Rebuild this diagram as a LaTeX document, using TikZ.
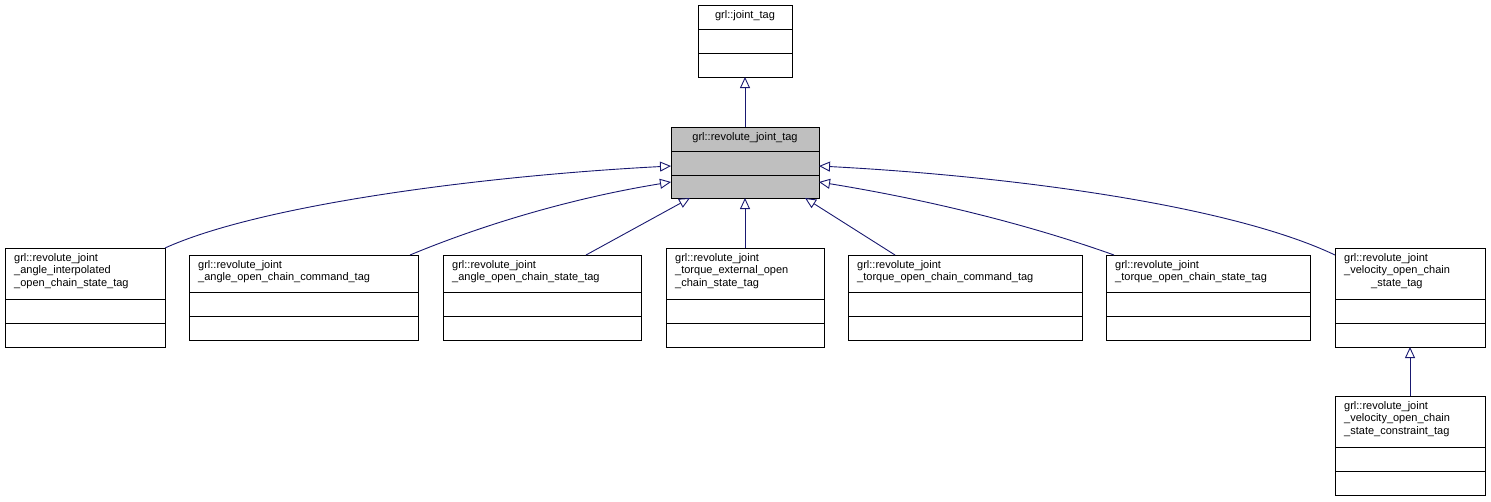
\documentclass[tikz,border=0pt]{standalone}
\usepackage{fontspec}
\setmainfont{Liberation Sans}
\usetikzlibrary{arrows.meta,positioning,calc}
\definecolor{edgeblue}{RGB}{25,25,112}
\definecolor{hilite}{RGB}{191,191,191}

% class box: name, x1, y1, x2, y2, first row line, second row line, fill
\newcommand{\umlbox}[8]{%
  \node[cls, fill=#8, minimum width=#4-#2, minimum height=#5-#3, anchor=north west] (#1) at (#2,#3) {};
  \draw (#2,#6) -- (#4,#6);
  \draw (#2,#7) -- (#4,#7);
}

\begin{document}
\begin{tikzpicture}[x=1pt,y=-1pt,>={Triangle[open,length=11pt,width=10pt]}]
\tikzset{
  cls/.style={draw, line width=0.9pt, inner sep=0pt, outer sep=0pt},
  ttl/.style={anchor=north west, inner sep=0pt, align=left, font=\fontsize{11}{12.5}\selectfont},
  inh/.style={<-, draw=edgeblue, line width=0.9pt}
}
\useasboundingbox (0,0) rectangle (1491,501);

% classes
\umlbox{joint}{698}{5}{792}{77}{29}{53}{white}
\umlbox{rev}{671}{127}{819}{198}{151}{175}{hilite}
\umlbox{interp}{5}{248}{165}{347}{299}{323}{white}
\umlbox{anglecmd}{189}{255}{418}{340}{292}{316}{white}
\umlbox{anglestate}{443}{255}{641}{340}{292}{316}{white}
\umlbox{torqueext}{666}{248}{824}{347}{299}{323}{white}
\umlbox{torquecmd}{848}{255}{1082}{340}{292}{316}{white}
\umlbox{torquestate}{1106}{255}{1310}{340}{292}{316}{white}
\umlbox{velstate}{1335}{248}{1485}{347}{299}{323}{white}
\umlbox{velcons}{1335}{396}{1485}{495}{447}{471}{white}

% titles
\node[ttl, anchor=north] (joint-t) at (745,10) {grl::joint\_tag};
\node[ttl, anchor=north] (rev-t) at (745,132) {grl::revolute\_joint\_tag};
\node[ttl] (interp-t) at (14,253) {grl::revolute\_joint\\\_angle\_interpolated\\\_open\_chain\_state\_tag};
\node[ttl] (anglecmd-t) at (198,260) {grl::revolute\_joint\\\_angle\_open\_chain\_command\_tag};
\node[ttl] (anglestate-t) at (452,260) {grl::revolute\_joint\\\_angle\_open\_chain\_state\_tag};
\node[ttl] (torqueext-t) at (675,253) {grl::revolute\_joint\\\_torque\_external\_open\\\_chain\_state\_tag};
\node[ttl] (torquecmd-t) at (857,260) {grl::revolute\_joint\\\_torque\_open\_chain\_command\_tag};
\node[ttl] (torquestate-t) at (1115,260) {grl::revolute\_joint\\\_torque\_open\_chain\_state\_tag};
\node[ttl] (velstate-t) at (1344,253) {grl::revolute\_joint\\\_velocity\_open\_chain\\\hspace*{27pt}\_state\_tag};
\node[ttl] (velcons-t) at (1344,401) {grl::revolute\_joint\\\_velocity\_open\_chain\\\_state\_constraint\_tag};

% inheritance
\draw[inh] (joint.south) -- (rev.north);
\draw[inh] ([yshift=-3.5pt]rev.west) .. controls (480,176) and (260,205) .. (interp.north east);
\draw[inh] ([yshift=-19.5pt]rev.west) .. controls (560,200) and (470,230) .. ([xshift=-8pt]anglecmd.north east);
\draw[inh] ([xshift=-55pt]rev.south) -- ([xshift=-55pt]anglestate.north east |- anglestate.north);
\draw[inh] (rev.south) -- (torqueext.north);
\draw[inh] ([xshift=60pt]rev.south) -- ([xshift=47pt]torquecmd.north west);
\draw[inh] ([yshift=-19.5pt]rev.east) .. controls (930,200) and (1030,225) .. ([xshift=8pt]torquestate.north west);
\draw[inh] ([yshift=-3.5pt]rev.east) .. controls (1010,176) and (1230,205) .. ([yshift=-7pt]velstate.north west);
\draw[inh] (velstate.south) -- (velcons.north);
\end{tikzpicture}
\end{document}
